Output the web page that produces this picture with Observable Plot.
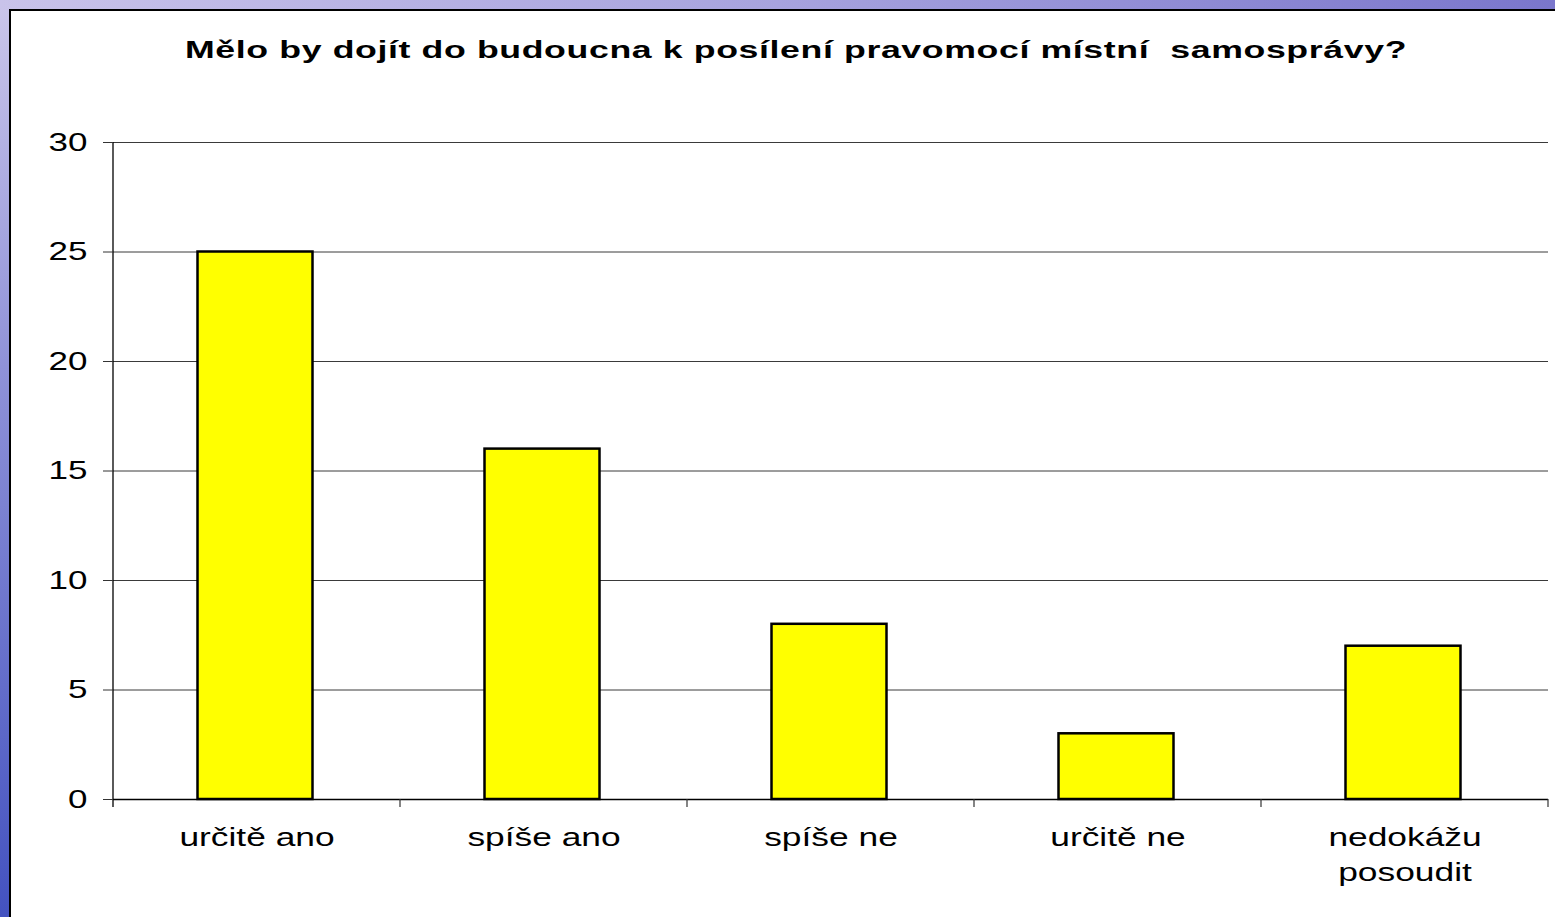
<!DOCTYPE html>
<html>
<head>
<meta charset="utf-8">
<script src="https://cdn.jsdelivr.net/npm/d3@7"></script>
<script src="https://cdn.jsdelivr.net/npm/@observablehq/plot@0.6"></script>
<style>
  html, body { margin: 0; padding: 0; width: 1555px; height: 917px; overflow: hidden; }
  body {
    background: linear-gradient(to bottom, #cbc6ea 0%, #8f92d8 40%, #4352c0 100%);
    font-family: "Liberation Sans", Arial, sans-serif;
    position: relative;
  }
  #topband {
    position: absolute; left: 0; top: 0; width: 1555px; height: 10px;
    background: linear-gradient(to right, #c9c3ea 0%, #a7a3de 50%, #7a76cc 100%);
  }
  #panel {
    position: absolute; left: 9px; top: 9px; width: 1546px; height: 908px;
    background: #fff; border-left: 2px solid #000; border-top: 2px solid #000;
    box-sizing: border-box;
  }
  #title {
    position: absolute; top: 37px; left: 0;
    font-weight: bold; font-size: 23px; letter-spacing: 0.4px; color: #000;
    white-space: pre; line-height: 27px; transform-origin: 50% 50%;
  }
  #chart { position: absolute; left: 0; top: 0; }
</style>
</head>
<body>
<div id="topband"></div>
<div id="panel"></div>
<span id="title">Mělo by dojít do budoucna k posílení pravomocí místní  samosprávy?</span>
<div id="chart"></div>
<script>
const categories = ["určitě ano", "spíše ano", "spíše ne", "určitě ne", "nedokážu posoudit"];
const values = [25, 16, 8, 3, 7];
const tickLabels = ["určitě ano", "spíše ano", "spíše ne", "určitě ne", "nedokážu\nposoudit"];
const yTicks = [0, 5, 10, 15, 20, 25, 30];

const data = categories.map((c, i) => ({category: c, value: values[i]}));
const labelOf = new Map(categories.map((c, i) => [c, tickLabels[i]]));

function frameTicks(index, scales, vals, dims) {
  const y = scales.y;
  const g = d3.create("svg:g");
  const n = categories.length;
  const left = dims.marginLeft, right = dims.width - dims.marginRight;
  const step = (right - left) / n;
  const y0 = y(0), yTop = y(30);
  g.append("line").attr("x1", left).attr("x2", left).attr("y1", yTop).attr("y2", y0 + 8)
    .attr("stroke", "#000").attr("stroke-width", 1.3);
  for (let i = 1; i <= n; i++) {
    const xb = left + i * step;
    g.append("line").attr("x1", xb).attr("x2", xb).attr("y1", y0).attr("y2", y0 + 8)
      .attr("stroke", "#333").attr("stroke-width", 1.2);
  }
  return g.node();
}

const chart = Plot.plot({
  width: 1555,
  height: 917,
  marginLeft: 113,
  marginRight: 7,
  marginTop: 142,
  marginBottom: 118,
  style: {background: "transparent", fontFamily: "'Liberation Sans', Arial, sans-serif", color: "#000"},
  x: {domain: categories, paddingInner: 0.6, paddingOuter: 0.3, label: null},
  y: {domain: [0, 30], label: null},
  marks: [
    Plot.gridY(yTicks, {stroke: "#3a3a3a", strokeOpacity: 1, strokeWidth: 1}),
    Plot.ruleY([0], {stroke: "#000", strokeWidth: 1.3}),
    Plot.barY(data, {x: "category", y: "value", fill: "#ffff00", stroke: "#000", strokeWidth: 2.5, dx: -1.5}),
    frameTicks,
    Plot.axisY({ticks: yTicks, tickSize: 10, tickPadding: 16, fontSize: 25, stroke: "#333", tickFormat: d => String(d)}),
    Plot.axisX({tickSize: 0, tickPadding: 22, fontSize: 26, lineHeight: 1.33, tickFormat: d => labelOf.get(d), textAnchor: "middle"})
  ]
});
document.getElementById("chart").append(chart);

// horizontally stretch axis text like the reference rendering
function stretch(selector, s) {
  chart.querySelectorAll(selector + " text").forEach(el => {
    const t = el.getAttribute("transform") || "";
    el.setAttribute("transform", t + ` scale(${s},1)`);
  });
}
stretch('g[aria-label="y-axis tick label"]', 1.4);
stretch('g[aria-label="x-axis tick label"]', 1.36);

// title: centred at 796, spanning ~1222px
const title = document.getElementById("title");
const w = title.getBoundingClientRect().width;
title.style.left = (796 - w / 2) + "px";
title.style.transform = `scaleX(${1222 / w})`;
</script>
</body>
</html>
